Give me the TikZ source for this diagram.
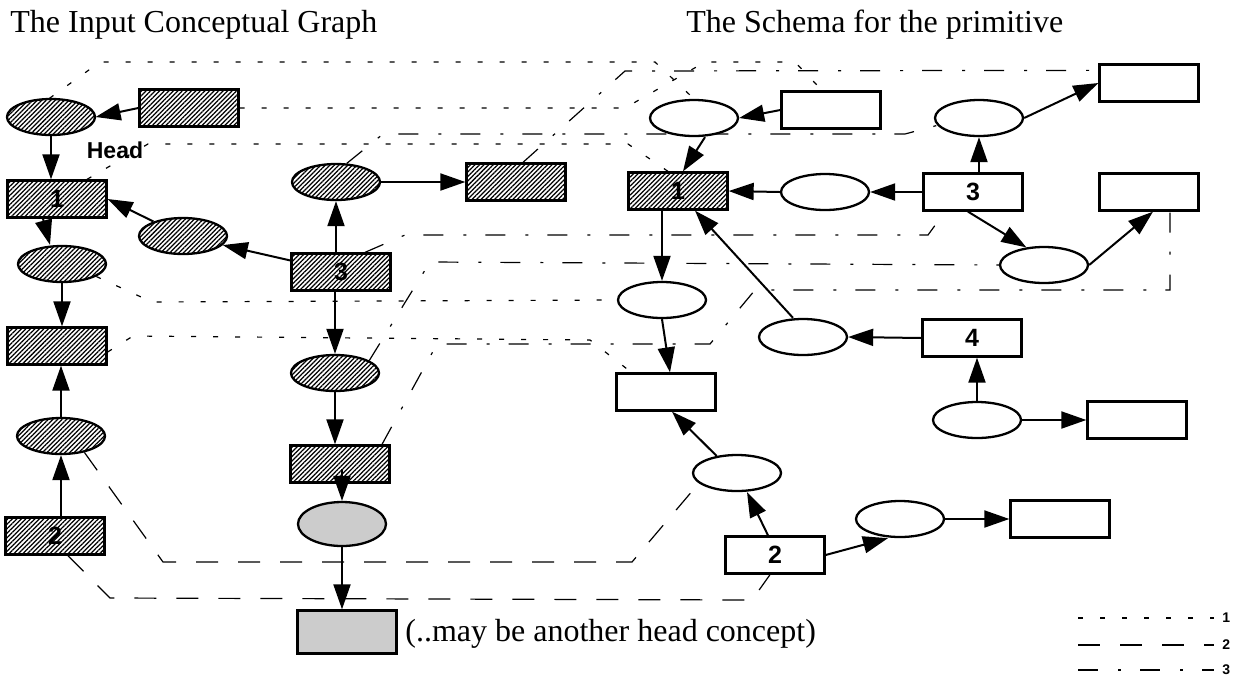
\documentclass[tikz,border=0pt]{standalone}
\usepackage{fontspec}
\setmainfont{Liberation Serif}
\newfontfamily\helv{Liberation Sans}
\usetikzlibrary{shapes.geometric,arrows.meta,patterns.meta,backgrounds}

\begin{document}
\begin{tikzpicture}[x=0.5pt,y=-0.5pt,
  rel/.style={ellipse,draw,fill=white,line width=1.15pt,minimum width=44pt,minimum height=18pt,inner sep=0pt},
  con/.style={draw,fill=white,line width=1.15pt,minimum width=49.5pt,minimum height=18.5pt,inner sep=0pt,font=\helv\bfseries\fontsize{12.5}{12.5}\selectfont},
  hatch/.style={preaction={fill=white},pattern={Lines[angle=45,distance=1.6pt,line width=0.62pt]}},
  grainy/.style={fill=black!20},
  arr/.style={line width=1pt,-{Triangle[length=12.5pt,width=8.5pt]}},
  map1/.style={line width=0.6pt,dash pattern=on 2.5pt off 8.5pt},
  map2/.style={line width=0.6pt,dash pattern=on 11pt off 10pt},
  map3/.style={line width=0.6pt,dash pattern=on 10pt off 10pt on 1.5pt off 9.5pt}]
  \useasboundingbox (0,0) rectangle (1248,676);

  \node[anchor=base west,inner sep=0pt,font=\fontsize{16}{16}\selectfont] (t1) at (10,32) {The Input Conceptual Graph};
  \node[anchor=base west,inner sep=0pt,font=\fontsize{16}{16}\selectfont] (t2) at (686,32) {The Schema for the primitive};

  % input graph
  \node[rel,hatch] (e1) at (51,117) {};
  \node[con,hatch] (r0) at (189,108) {};
  \node[font=\helv\bfseries\fontsize{11.5}{12}\selectfont] (head) at (115,150) {Head};
  \node[con,hatch] (c1) at (57,199) {1};
  \node[rel,hatch] (e2) at (183,236) {};
  \node[rel,hatch] (e3) at (62,264) {};
  \node[con,hatch] (r2) at (57,346) {};
  \node[rel,hatch] (e4) at (61,436) {};
  \node[con,hatch] (c2) at (55,536) {2};
  \node[con,hatch] (c3) at (341,272) {3};
  \node[rel,hatch] (e5) at (336,182) {};
  \node[con,hatch] (r3) at (516,182) {};
  \node[rel,hatch] (e6) at (335,373) {};
  \node[con,hatch] (r4) at (340,464) {};
  \node[rel,grainy,minimum height=22pt] (e7) at (342,524) {};
  \node[con,grainy,minimum height=21.5pt] (r5) at (347,632) {};
  \node[anchor=west,inner sep=0pt,font=\fontsize{16}{16}\selectfont] (note) at (405,634) {(..may be another head concept)};

  % schema
  \node[rel] (e8) at (694,118) {};
  \node[con] (r6) at (831,110) {};
  \node[con,hatch] (s1) at (678,191) {1};
  \node[rel] (e9) at (825,192) {};
  \node[con] (s3) at (973,192) {3};
  \node[rel] (e10) at (979,118) {};
  \node[con] (r7) at (1149,83) {};
  \node[con] (r8) at (1149,192) {};
  \node[rel] (e11) at (1044,265) {};
  \node[con] (s4) at (972,338) {4};
  \node[rel] (e12) at (803,337) {};
  \node[rel] (e13) at (662,300) {};
  \node[con] (r9) at (666,392) {};
  \node[rel] (e14) at (977,420) {};
  \node[con] (r10) at (1137,420) {};
  \node[rel] (e15) at (737,473) {};
  \node[con] (s2) at (775,555) {2};
  \node[rel] (e16) at (900,519) {};
  \node[con] (r11) at (1060,519) {};

  \draw[arr] (r0.west) -- (e1.east);
  \draw[arr] (e1.south) -- (e1.south |- c1.north);
  \draw[arr] ([xshift=-7pt]c1.south) -- ([xshift=-6pt]e3.north);
  \draw[arr] (e2) -- (c1.east);
  \draw[arr] (c3) -- (e2);
  \draw[arr] (e3.south) -- (e3.south |- r2.north);
  \draw[arr] (e4.north) -- (e4.north |- r2.south);
  \draw[arr] (e4.south |- c2.north) -- (e4.south);
  \draw[arr] (e5.south |- c3.north) -- (e5.south);
  \draw[arr] (e5.east) -- (r3.west);
  \draw[arr] (e6.north |- c3.south) -- (e6.north);
  \draw[arr] (e6.south) -- (e6.south |- r4.north);
  \draw[arr] ([yshift=16pt]e7.north) -- (e7.north);
  \draw[arr] (e7.south) -- (e7.south |- r5.north);

  \draw[arr] (r6.west) -- (e8.east);
  \draw[arr] ([xshift=5.5pt]e8.south) -- ([xshift=2.5pt]s1.north);
  \draw[arr] (e9.west) -- (s1.east);
  \draw[arr] (s3.west) -- (e9.east);
  \draw[arr] (e10.south |- s3.north) -- (e10.south);
  \draw[arr] (e10.east) -- (r7.west);
  \draw[arr] ([xshift=-2.5pt]s3.south) -- (e11.135);
  \draw[arr] (e11.east) -- ([xshift=2pt]r8.south);
  \draw[arr] (e13.north |- s1.south) -- (e13.north);
  \draw[arr] (e13.south) -- ([xshift=2pt]r9.north);
  \draw[arr] ([xshift=-5pt]e12.north) -- ([xshift=8.5pt]s1.south);
  \draw[arr] (s4.west) -- (e12.east);
  \draw[arr] (e14.north) -- (e14.north |- s4.south);
  \draw[arr] (e14.east) -- (r10.west);
  \draw[arr] (e15.140) -- ([xshift=3pt]r9.south);
  \draw[arr] ([xshift=-3.5pt]s2.north) -- ([xshift=5pt]e15.south);
  \draw[arr] (s2.east) -- ([xshift=-6pt]e16.south);
  \draw[arr] (e16.east) -- (r11.west);

  \begin{scope}[on background layer]
    % concept 1
    \draw[map1] (e1.95) -- (100,62) -- (655,62) -- (e8.north);
    \draw[map1] (r0.east) -- (625,108) -- (705,62) -- (795,62) -- ([xshift=-4.5pt]r6.north);
    \draw[map1] ([xshift=15pt]c1.north) -- (148,144) -- (628,144) -- ([xshift=-5pt]s1.north);
    \draw[map1] (e3.-20) -- (152,302) -- (e13.west);
    \draw[map1] ([yshift=-3pt]r2.east) -- (133,336) -- (590,340) -- ([xshift=8pt]r9.north west);
    % concept 2
    \draw[map2] (e4.-35) -- (163,562) -- (632,562) -- (e15.195);
    \draw[map2] ([xshift=6.5pt]c2.south) -- (110,598) -- (752,600) -- ([xshift=-2.5pt]s2.south);
    % concept 3
    \draw[map3] ([xshift=3.5pt]r3.north) -- (625,71) -- ([yshift=-3.5pt]r7.north west);
    \draw[map3] (e5.60) -- (383,134) -- (905,134) -- (e10.190);
    \draw[map3] ([xshift=12pt]c3.north) -- (405,235) -- (928,235) -- ([xshift=-14pt]s3.south);
    \draw[map3] (e6.20) -- (430,262) -- (e11.west);
    \draw[map3] ([xshift=21pt]r4.north) -- (437,344) -- (710,344) -- (755,290) -- (1170,290) -- ([xshift=10.5pt]r8.south);
  \end{scope}

  % key
  \foreach \i/\y/\s in {1/618/map1,2/645/map2,3/670/map3}{
    \node[anchor=west,inner sep=1pt,font=\helv\bfseries\fontsize{7}{7}\selectfont] (k\i) at (1220,\y) {\i};
    \coordinate (b\i) at (1078,\y);
    \draw[\s] (b\i) -- ([xshift=-3pt]k\i.west);
  }
\end{tikzpicture}
\end{document}
